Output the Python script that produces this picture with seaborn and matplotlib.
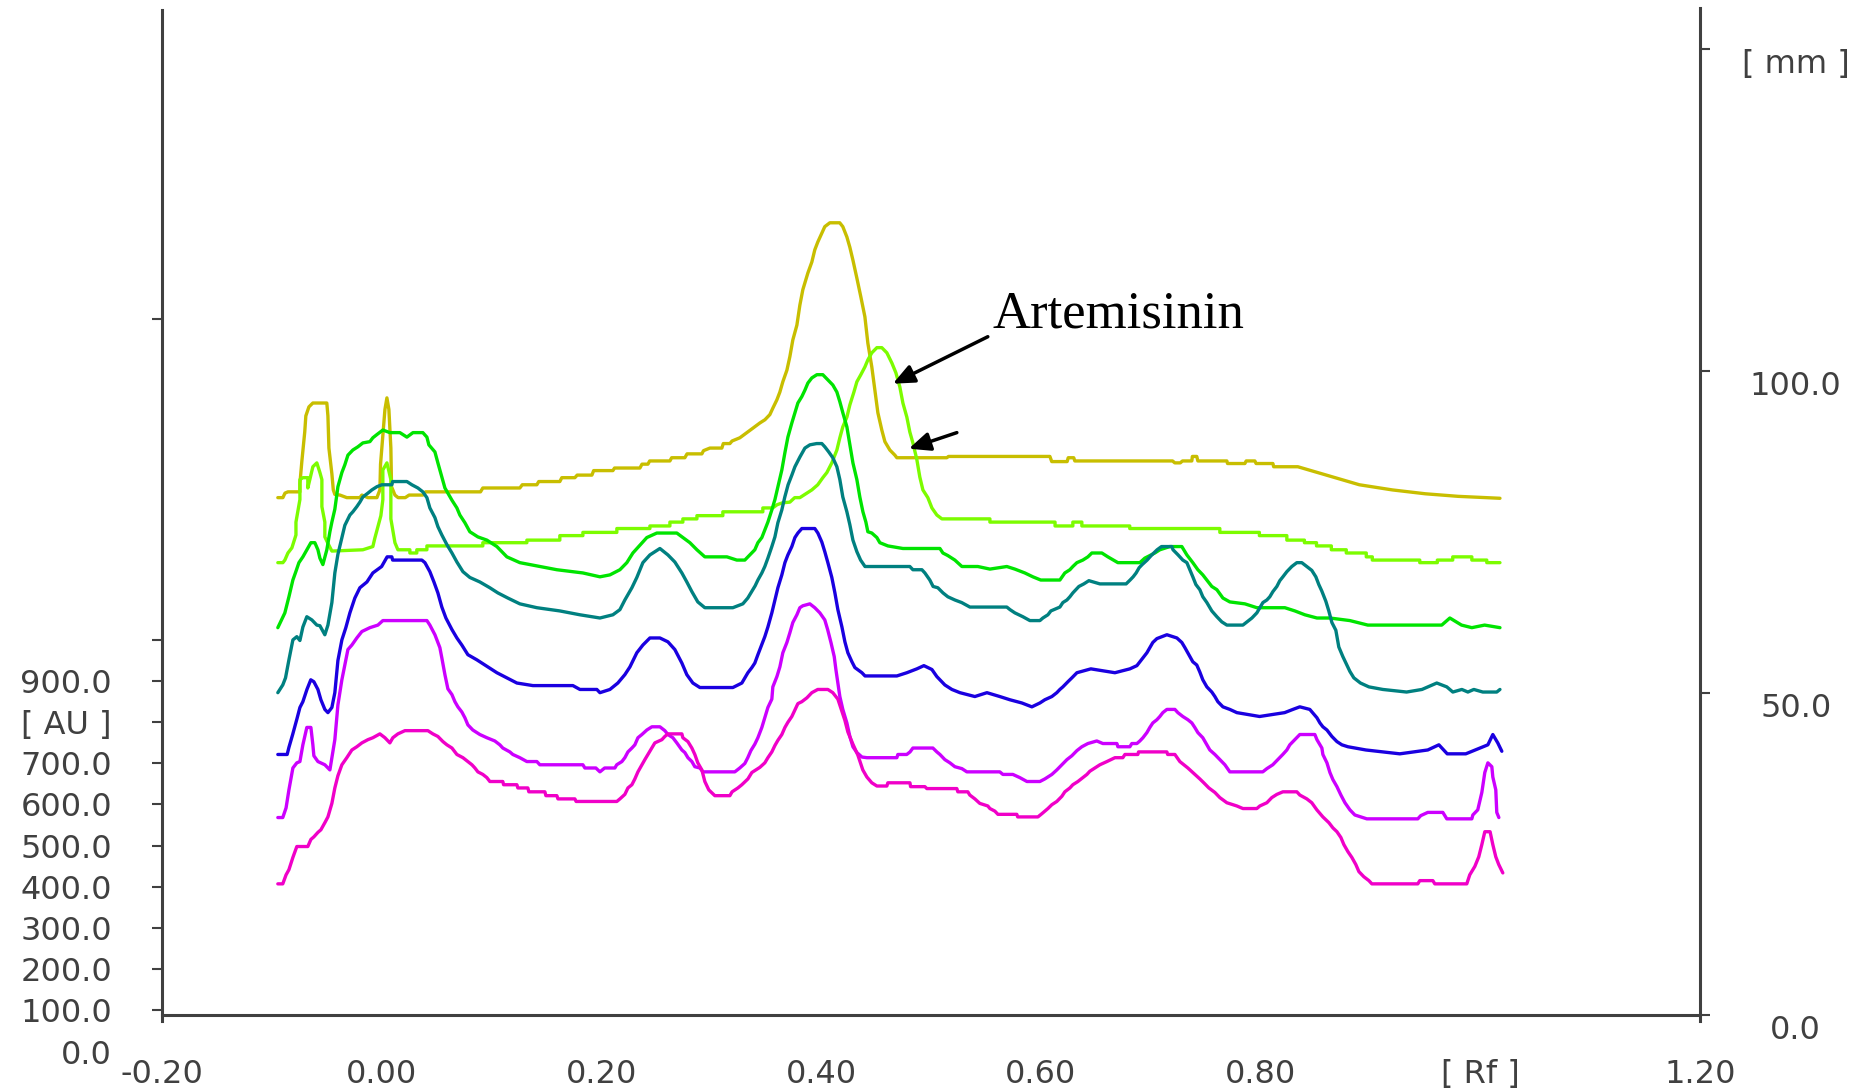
import numpy as np
import pandas as pd
import matplotlib
matplotlib.use("Agg")
import matplotlib.pyplot as plt
import seaborn as sns

sns.set_style("white")
plt.rcParams['font.family'] = ['DejaVu Sans']

# ---------------- data (x = Rf, y = mm) ----------------
yellow = [(-0.0945, 80.3), (-0.0899, 80.3), (-0.0880, 81.0), (-0.0853, 81.2), (-0.0744, 81.2), (-0.0744, 82.5),
          (-0.0726, 86.0), (-0.0700, 90.5), (-0.0690, 93.0), (-0.0662, 94.4), (-0.0626, 95.0), (-0.0499, 95.0),
          (-0.0489, 93.0), (-0.0480, 88.0), (-0.0453, 84.0), (-0.0440, 81.5), (-0.0426, 80.8), (-0.0380, 80.7),
          (-0.0317, 80.3), (-0.0198, 80.3), (-0.0180, 80.7), (-0.0125, 80.3), (-0.0043, 80.3), (-0.0016, 81.5),
          (-0.0010, 85.5), (0.0011, 90.0), (0.0030, 94.0), (0.0048, 95.8), (0.0066, 94.0), (0.0084, 88.0),
          (0.0090, 82.0), (0.0121, 80.7), (0.0150, 80.3), (0.0215, 80.3), (0.0250, 80.7), (0.0375, 80.7),
          (0.0400, 81.2), (0.0900, 81.2), (0.0921, 81.8), (0.1258, 81.8), (0.1280, 82.3), (0.1413, 82.3),
          (0.1430, 82.8), (0.1622, 82.8), (0.1640, 83.4), (0.1759, 83.4), (0.1780, 83.8), (0.1914, 83.8),
          (0.1930, 84.5), (0.2105, 84.5), (0.2120, 84.9), (0.2351, 84.9), (0.2370, 85.5), (0.2424, 85.5),
          (0.2440, 86.0), (0.2624, 86.0), (0.2640, 86.5), (0.2760, 86.5), (0.2780, 87.1), (0.2915, 87.1),
          (0.2930, 87.6), (0.2988, 88.0), (0.3097, 88.0), (0.3110, 88.7), (0.3170, 88.7), (0.3190, 89.1),
          (0.3261, 89.6), (0.3325, 90.4), (0.3380, 91.1), (0.3443, 91.9), (0.3489, 92.4), (0.3534, 93.2),
          (0.3561, 94.2), (0.3598, 95.5), (0.3625, 96.7), (0.3652, 98.3), (0.3689, 100.1), (0.3716, 102.2),
          (0.3743, 104.8), (0.3780, 107.1), (0.3807, 110.2), (0.3834, 112.6), (0.3880, 115.2), (0.3916, 116.9),
          (0.3943, 118.8), (0.3970, 120.0), (0.4007, 121.4), (0.4034, 122.4), (0.4080, 123.0), (0.4170, 123.0),
          (0.4198, 122.4), (0.4235, 120.8), (0.4262, 119.2), (0.4290, 117.2), (0.4326, 114.4), (0.4362, 111.5),
          (0.4399, 108.4), (0.4426, 104.3), (0.4462, 100.6), (0.4490, 97.0), (0.4517, 93.5), (0.4553, 90.8),
          (0.4581, 89.0), (0.4626, 87.7), (0.4672, 86.9), (0.4690, 86.5), (0.5145, 86.5), (0.5160, 86.7),
          (0.6083, 86.7), (0.6100, 85.9), (0.6240, 85.9), (0.6250, 86.5), (0.6300, 86.5), (0.6310, 86.0),
          (0.7200, 86.0), (0.7220, 85.7), (0.7270, 85.7), (0.7290, 86.0), (0.7375, 86.0), (0.7380, 86.7),
          (0.7420, 86.7), (0.7430, 86.0), (0.7694, 86.0), (0.7700, 85.6), (0.7858, 85.6), (0.7870, 86.0),
          (0.7949, 86.0), (0.7960, 85.6), (0.8113, 85.6), (0.8120, 85.1), (0.8340, 85.1), (0.8600, 83.8),
          (0.8900, 82.3), (0.9200, 81.5), (0.9500, 80.9), (0.9800, 80.5), (1.0180, 80.2)]

lgreen = [(-0.0945, 70.2), (-0.0899, 70.2), (-0.0881, 70.6), (-0.0853, 71.7), (-0.0817, 72.5), (-0.0780, 74.5),
          (-0.0780, 76.5), (-0.0744, 80.0), (-0.0744, 83.1), (-0.0717, 83.4), (-0.0672, 83.4), (-0.0672, 81.8),
          (-0.0626, 85.1), (-0.0590, 85.7), (-0.0562, 84.2), (-0.0544, 83.1), (-0.0544, 78.9), (-0.0517, 76.5),
          (-0.0517, 74.2), (-0.0489, 73.2), (-0.0453, 72.0), (-0.0171, 72.2), (-0.0080, 72.7), (-0.0062, 74.0),
          (-0.0034, 75.8), (-0.0007, 77.5), (0.0011, 80.0), (0.0011, 84.6), (0.0048, 85.7), (0.0084, 83.1),
          (0.0084, 77.0), (0.0121, 73.3), (0.0148, 72.2), (0.0257, 72.2), (0.0257, 71.7), (0.0320, 71.7),
          (0.0320, 72.2), (0.0412, 72.2), (0.0412, 72.8), (0.0921, 72.8), (0.0921, 73.3), (0.1322, 73.3),
          (0.1322, 73.7), (0.1622, 73.7), (0.1622, 74.4), (0.1832, 74.4), (0.1832, 74.9), (0.2141, 74.9),
          (0.2141, 75.5), (0.2442, 75.5), (0.2442, 75.9), (0.2624, 75.9), (0.2624, 76.5), (0.2742, 76.5),
          (0.2742, 77.0), (0.2870, 77.0), (0.2870, 77.5), (0.3106, 77.5), (0.3106, 78.1), (0.3470, 78.1),
          (0.3470, 78.7), (0.3560, 78.7), (0.3600, 79.2), (0.3650, 79.5), (0.3716, 79.6), (0.3760, 80.3),
          (0.3807, 80.3), (0.3870, 81.0), (0.3916, 81.5), (0.3970, 82.3), (0.4016, 83.4), (0.4053, 84.2),
          (0.4098, 85.7), (0.4144, 87.7), (0.4171, 89.6), (0.4198, 91.3), (0.4235, 92.8), (0.4262, 94.7),
          (0.4299, 96.7), (0.4326, 98.3), (0.4362, 99.4), (0.4399, 100.6), (0.4426, 101.7), (0.4462, 102.8),
          (0.4508, 103.6), (0.4553, 103.6), (0.4599, 102.8), (0.4645, 101.2), (0.4681, 99.7), (0.4717, 97.5),
          (0.4745, 95.0), (0.4781, 92.8), (0.4808, 90.5), (0.4836, 88.8), (0.4872, 86.2), (0.4899, 83.5),
          (0.4927, 81.5), (0.4972, 80.3), (0.5009, 78.7), (0.5054, 77.6), (0.5100, 77.0), (0.5537, 77.0),
          (0.5537, 76.5), (0.6130, 76.5), (0.6130, 75.9), (0.6292, 75.9), (0.6292, 76.5), (0.6374, 76.5),
          (0.6374, 75.9), (0.6810, 75.9), (0.6810, 75.5), (0.7630, 75.5), (0.7630, 74.9), (0.7990, 74.9),
          (0.7990, 74.4), (0.8240, 74.4), (0.8240, 73.7), (0.8400, 73.7), (0.8400, 73.3), (0.8510, 73.3),
          (0.8510, 72.8), (0.8645, 72.8), (0.8645, 72.2), (0.8781, 72.2), (0.8781, 71.7), (0.8963, 71.7),
          (0.8963, 71.1), (0.9018, 71.1), (0.9018, 70.6), (0.9450, 70.6), (0.9450, 70.2), (0.9610, 70.2),
          (0.9610, 70.6), (0.9750, 70.6), (0.9750, 71.1), (0.9924, 71.1), (0.9924, 70.6), (1.0060, 70.6),
          (1.0060, 70.2), (1.0180, 70.2)]

green = [(-0.0945, 60.1), (-0.0881, 62.4), (-0.0844, 64.9), (-0.0808, 67.5), (-0.0781, 68.8), (-0.0753, 70.2),
         (-0.0717, 71.1), (-0.0681, 72.2), (-0.0644, 73.3), (-0.0608, 73.3), (-0.0580, 72.2), (-0.0562, 70.9),
         (-0.0535, 69.9), (-0.0499, 72.2), (-0.0471, 75.0), (-0.0453, 76.5), (-0.0426, 78.5), (-0.0398, 82.0),
         (-0.0362, 84.2), (-0.0335, 85.4), (-0.0307, 86.9), (-0.0262, 87.7), (-0.0216, 88.2), (-0.0171, 88.8),
         (-0.0107, 89.0), (-0.0080, 89.6), (-0.0043, 90.1), (0.0011, 90.8), (0.0075, 90.4), (0.0166, 90.4),
         (0.0230, 89.7), (0.0285, 90.4), (0.0375, 90.4), (0.0412, 89.7), (0.0430, 88.5), (0.0485, 87.4),
         (0.0512, 85.7), (0.0548, 83.5), (0.0576, 81.8), (0.0640, 79.9), (0.0685, 78.7), (0.0712, 77.6),
         (0.0758, 76.4), (0.0803, 75.0), (0.0876, 74.2), (0.0958, 73.7), (0.1049, 72.7), (0.1140, 71.1),
         (0.1258, 70.2), (0.1441, 69.6), (0.1595, 69.1), (0.1832, 68.6), (0.1987, 68.0), (0.2078, 68.3),
         (0.2169, 69.1), (0.2232, 70.2), (0.2287, 71.7), (0.2351, 72.9), (0.2414, 74.1), (0.2505, 74.8),
         (0.2687, 74.8), (0.2742, 74.1), (0.2806, 73.3), (0.2870, 72.2), (0.2942, 71.1), (0.3143, 71.1),
         (0.3233, 70.6), (0.3306, 70.6), (0.3352, 71.4), (0.3397, 72.2), (0.3425, 73.3), (0.3461, 74.1),
         (0.3488, 75.3), (0.3516, 76.5), (0.3552, 78.4), (0.3580, 80.0), (0.3607, 82.0), (0.3643, 84.6),
         (0.3671, 87.3), (0.3698, 89.7), (0.3734, 91.9), (0.3762, 93.5), (0.3789, 95.0), (0.3825, 96.0),
         (0.3853, 97.0), (0.3880, 98.1), (0.3916, 98.9), (0.3962, 99.4), (0.4016, 99.4), (0.4062, 98.6),
         (0.4107, 97.8), (0.4144, 96.7), (0.4171, 95.2), (0.4198, 93.5), (0.4235, 91.3), (0.4262, 88.5),
         (0.4290, 85.7), (0.4326, 83.1), (0.4353, 80.4), (0.4381, 78.1), (0.4408, 76.5), (0.4426, 75.0),
         (0.4462, 74.8), (0.4508, 74.1), (0.4535, 73.3), (0.4608, 72.8), (0.4745, 72.4), (0.5082, 72.4),
         (0.5109, 71.7), (0.5154, 71.3), (0.5218, 70.6), (0.5282, 69.6), (0.5427, 69.6), (0.5537, 69.2),
         (0.5691, 69.6), (0.5764, 69.2), (0.5855, 68.6), (0.5928, 68.0), (0.6000, 67.5), (0.6174, 67.5),
         (0.6219, 68.6), (0.6265, 69.1), (0.6292, 69.6), (0.6329, 70.2), (0.6383, 70.6), (0.6429, 71.1),
         (0.6465, 71.7), (0.6556, 71.7), (0.6611, 71.1), (0.6702, 70.2), (0.6902, 70.2), (0.6947, 70.9),
         (0.7038, 71.7), (0.7084, 72.2), (0.7175, 72.7), (0.7284, 72.7), (0.7330, 71.4), (0.7384, 70.2),
         (0.7430, 69.1), (0.7475, 68.3), (0.7512, 67.5), (0.7557, 66.5), (0.7603, 66.0), (0.7658, 64.7),
         (0.7721, 64.1), (0.7858, 63.8), (0.7967, 63.2), (0.8222, 63.2), (0.8313, 62.7), (0.8404, 62.1),
         (0.8514, 61.6), (0.8632, 61.6), (0.8814, 61.2), (0.8977, 60.5), (0.9650, 60.5), (0.9724, 61.6),
         (0.9830, 60.5), (0.9924, 60.1), (1.0040, 60.5), (1.0180, 60.1)]

teal = [(-0.0945, 50.0), (-0.0900, 51.2), (-0.0875, 52.3), (-0.0844, 55.1), (-0.0808, 58.2), (-0.0772, 58.7),
        (-0.0744, 58.1), (-0.0717, 60.2), (-0.0681, 61.8), (-0.0635, 61.3), (-0.0590, 60.5), (-0.0562, 60.4),
        (-0.0517, 59.0), (-0.0489, 60.5), (-0.0453, 64.0), (-0.0426, 68.6), (-0.0398, 71.5), (-0.0362, 74.1),
        (-0.0335, 76.0), (-0.0289, 77.6), (-0.0262, 78.1), (-0.0226, 78.9), (-0.0198, 79.6), (-0.0171, 80.4),
        (-0.0125, 81.0), (-0.0089, 81.5), (-0.0043, 82.0), (0.0002, 82.3), (0.0093, 82.3), (0.0100, 82.8),
        (0.0230, 82.8), (0.0275, 82.3), (0.0330, 81.8), (0.0375, 81.2), (0.0412, 80.3), (0.0439, 78.7),
        (0.0485, 77.2), (0.0512, 75.8), (0.0548, 74.5), (0.0594, 73.0), (0.0640, 71.7), (0.0685, 70.3),
        (0.0740, 68.8), (0.0803, 67.9), (0.0894, 67.2), (0.0985, 66.3), (0.1058, 65.5), (0.1149, 64.7),
        (0.1258, 63.8), (0.1413, 63.2), (0.1622, 62.7), (0.1805, 62.1), (0.1987, 61.6), (0.2105, 62.1),
        (0.2169, 62.9), (0.2214, 64.4), (0.2278, 66.3), (0.2323, 67.9), (0.2378, 70.2), (0.2442, 71.4),
        (0.2533, 72.4), (0.2606, 71.4), (0.2669, 70.3), (0.2733, 68.6), (0.2778, 67.2), (0.2824, 65.7),
        (0.2878, 64.1), (0.2942, 63.2), (0.3197, 63.2), (0.3288, 63.8), (0.3333, 64.7), (0.3400, 66.6),
        (0.3425, 67.5), (0.3461, 68.6), (0.3488, 69.6), (0.3516, 70.9), (0.3552, 72.7), (0.3580, 74.2),
        (0.3607, 76.4), (0.3643, 78.4), (0.3670, 80.4), (0.3700, 82.3), (0.3734, 83.8), (0.3762, 85.1),
        (0.3807, 86.6), (0.3853, 88.0), (0.3898, 88.5), (0.3960, 88.7), (0.4007, 88.7), (0.4034, 88.2),
        (0.4070, 87.4), (0.4107, 86.5), (0.4144, 85.1), (0.4171, 83.1), (0.4198, 80.4), (0.4235, 78.1),
        (0.4262, 76.1), (0.4290, 73.7), (0.4326, 71.9), (0.4360, 70.6), (0.4400, 69.6), (0.4808, 69.6),
        (0.4836, 69.1), (0.4918, 69.1), (0.4945, 68.6), (0.4990, 67.5), (0.5020, 66.5), (0.5063, 66.3),
        (0.5110, 65.5), (0.5154, 64.9), (0.5218, 64.4), (0.5280, 64.0), (0.5355, 63.3), (0.5691, 63.3),
        (0.5720, 62.9), (0.5764, 62.4), (0.5837, 61.8), (0.5901, 61.2), (0.5992, 61.2), (0.6019, 61.6),
        (0.6065, 62.1), (0.6092, 62.7), (0.6174, 63.3), (0.6201, 64.0), (0.6238, 64.4), (0.6265, 64.9),
        (0.6292, 65.5), (0.6320, 66.0), (0.6347, 66.5), (0.6392, 66.9), (0.6438, 67.4), (0.6538, 66.9),
        (0.6777, 66.9), (0.6813, 67.5), (0.6841, 68.0), (0.6868, 68.6), (0.6895, 69.4), (0.6923, 69.9),
        (0.6968, 70.6), (0.7005, 71.3), (0.7059, 72.2), (0.7099, 72.7), (0.7193, 72.7), (0.7204, 72.2),
        (0.7250, 71.4), (0.7293, 70.6), (0.7330, 70.2), (0.7350, 69.4), (0.7384, 68.0), (0.7412, 66.8),
        (0.7448, 66.0), (0.7475, 64.9), (0.7512, 64.0), (0.7557, 62.7), (0.7603, 61.8), (0.7648, 61.0),
        (0.7694, 60.5), (0.7840, 60.5), (0.7877, 61.0), (0.7922, 61.6), (0.7967, 62.4), (0.7995, 63.2),
        (0.8022, 64.0), (0.8058, 64.4), (0.8085, 64.9), (0.8113, 65.7), (0.8149, 66.5), (0.8176, 67.4),
        (0.8204, 68.0), (0.8240, 68.8), (0.8285, 69.6), (0.8331, 70.2), (0.8376, 70.2), (0.8422, 69.6),
        (0.8467, 69.0), (0.8504, 68.0), (0.8531, 66.8), (0.8558, 65.8), (0.8595, 64.2), (0.8622, 62.7),
        (0.8650, 60.9), (0.8686, 59.7), (0.8713, 57.1), (0.8750, 55.6), (0.8786, 54.3), (0.8814, 53.3),
        (0.8850, 52.3), (0.8910, 51.5), (0.8987, 50.9), (0.9114, 50.5), (0.9330, 50.1), (0.9470, 50.5),
        (0.9524, 50.9), (0.9605, 51.5), (0.9696, 50.9), (0.9751, 50.1), (0.9833, 50.5), (0.9888, 50.1),
        (0.9942, 50.5), (1.0024, 50.1), (1.0151, 50.1), (1.0180, 50.5)]

blue = [(-0.0945, 40.4), (-0.0860, 40.4), (-0.0844, 41.5), (-0.0810, 43.5), (-0.0770, 46.0), (-0.0744, 47.7),
        (-0.0717, 48.6), (-0.0680, 50.5), (-0.0645, 52.0), (-0.0617, 51.7), (-0.0580, 50.5), (-0.0553, 48.9),
        (-0.0517, 47.4), (-0.0489, 46.9), (-0.0453, 47.7), (-0.0426, 50.0), (-0.0398, 55.0), (-0.0362, 58.2),
        (-0.0326, 60.1), (-0.0289, 62.4), (-0.0244, 64.7), (-0.0198, 66.3), (-0.0134, 67.2), (-0.0080, 68.6),
        (0.0000, 69.6), (0.0050, 71.1), (0.0093, 71.1), (0.0100, 70.6), (0.0366, 70.6), (0.0394, 70.2),
        (0.0439, 68.8), (0.0476, 67.2), (0.0512, 65.5), (0.0548, 63.3), (0.0585, 61.6), (0.0640, 59.8),
        (0.0685, 58.5), (0.0730, 57.4), (0.0785, 55.9), (0.0867, 55.1), (0.0967, 54.0), (0.1049, 53.1),
        (0.1140, 52.3), (0.1231, 51.5), (0.1377, 51.1), (0.1741, 51.1), (0.1805, 50.5), (0.1959, 50.5),
        (0.1987, 50.0), (0.2078, 50.5), (0.2150, 51.5), (0.2214, 52.8), (0.2260, 54.0), (0.2323, 56.2),
        (0.2378, 57.4), (0.2442, 58.5), (0.2533, 58.5), (0.2606, 57.9), (0.2669, 56.7), (0.2733, 54.6),
        (0.2778, 52.8), (0.2833, 51.5), (0.2897, 50.8), (0.3197, 50.8), (0.3279, 51.5), (0.3334, 53.1),
        (0.3370, 53.9), (0.3397, 54.6), (0.3425, 55.9), (0.3461, 57.5), (0.3488, 58.7), (0.3516, 60.2),
        (0.3552, 62.4), (0.3580, 64.4), (0.3607, 66.3), (0.3643, 68.3), (0.3671, 70.2), (0.3698, 71.4),
        (0.3734, 72.7), (0.3762, 74.1), (0.3789, 74.8), (0.3825, 75.5), (0.3943, 75.5), (0.3971, 74.8),
        (0.4007, 73.4), (0.4034, 71.9), (0.4062, 70.2), (0.4098, 67.9), (0.4126, 65.5), (0.4153, 62.9),
        (0.4190, 60.2), (0.4217, 57.9), (0.4244, 56.2), (0.4281, 54.8), (0.4308, 53.9), (0.4372, 53.1),
        (0.4400, 52.6), (0.4690, 52.6), (0.4781, 53.1), (0.4872, 53.7), (0.4936, 54.2), (0.5009, 53.6),
        (0.5054, 52.5), (0.5082, 52.0), (0.5127, 51.2), (0.5191, 50.5), (0.5264, 50.0), (0.5400, 49.4),
        (0.5510, 50.0), (0.5627, 49.4), (0.5719, 48.9), (0.5828, 48.4), (0.5919, 47.8), (0.5992, 48.4),
        (0.6037, 48.9), (0.6101, 49.4), (0.6146, 50.0), (0.6174, 50.5), (0.6201, 50.9), (0.6247, 51.7),
        (0.6283, 52.3), (0.6329, 53.1), (0.6456, 53.7), (0.6675, 53.1), (0.6811, 53.7), (0.6875, 54.2),
        (0.6902, 54.8), (0.6930, 55.4), (0.6966, 56.2), (0.6993, 57.0), (0.7020, 57.8), (0.7057, 58.4),
        (0.7148, 59.0), (0.7239, 58.5), (0.7284, 57.8), (0.7312, 57.0), (0.7348, 55.9), (0.7384, 54.8),
        (0.7420, 54.3), (0.7448, 53.2), (0.7475, 52.0), (0.7512, 50.9), (0.7557, 50.1), (0.7585, 49.4),
        (0.7612, 48.6), (0.7658, 47.8), (0.7721, 47.4), (0.7785, 46.9), (0.7992, 46.3), (0.8220, 46.9),
        (0.8295, 47.4), (0.8358, 47.8), (0.8449, 47.4), (0.8514, 46.1), (0.8541, 45.3), (0.8568, 44.7),
        (0.8605, 44.2), (0.8650, 43.2), (0.8696, 42.4), (0.8741, 41.9), (0.8796, 41.6), (0.8959, 41.1),
        (0.9268, 40.5), (0.9523, 41.1), (0.9624, 41.9), (0.9700, 40.5), (0.9869, 40.5), (1.0070, 41.9),
        (1.0115, 43.5), (1.0160, 42.2), (1.0197, 40.9)]

violet = [(-0.0945, 30.6), (-0.0900, 30.6), (-0.0870, 32.1), (-0.0844, 34.9), (-0.0808, 38.3), (-0.0772, 39.1),
          (-0.0744, 39.3), (-0.0717, 41.9), (-0.0681, 44.6), (-0.0644, 44.6), (-0.0626, 41.9), (-0.0617, 40.2),
          (-0.0580, 39.3), (-0.0517, 38.8), (-0.0471, 38.0), (-0.0453, 39.9), (-0.0426, 42.7), (-0.0398, 48.1),
          (-0.0362, 52.0), (-0.0335, 54.3), (-0.0307, 56.7), (-0.0271, 57.4), (-0.0226, 58.5), (-0.0180, 59.5),
          (-0.0107, 60.1), (-0.0034, 60.5), (0.0011, 61.2), (0.0412, 61.2), (0.0439, 60.5), (0.0485, 59.0),
          (0.0530, 57.0), (0.0548, 55.4), (0.0576, 52.8), (0.0603, 50.6), (0.0640, 49.7), (0.0667, 48.6),
          (0.0694, 47.8), (0.0730, 47.0), (0.0758, 46.1), (0.0785, 45.0), (0.0830, 44.2), (0.0894, 43.5),
          (0.0958, 43.0), (0.1030, 42.5), (0.1076, 41.9), (0.1103, 41.4), (0.1167, 40.8), (0.1194, 40.4),
          (0.1258, 39.9), (0.1322, 39.3), (0.1413, 39.3), (0.1440, 38.8), (0.1832, 38.8), (0.1850, 38.3),
          (0.1950, 38.3), (0.1987, 37.7), (0.2030, 38.3), (0.2123, 38.3), (0.2140, 38.8), (0.2187, 39.3),
          (0.2214, 39.9), (0.2242, 40.8), (0.2278, 41.4), (0.2305, 41.9), (0.2333, 43.0), (0.2369, 43.5),
          (0.2414, 44.2), (0.2460, 44.7), (0.2533, 44.7), (0.2578, 44.1), (0.2606, 43.5), (0.2651, 43.0),
          (0.2687, 42.2), (0.2733, 41.1), (0.2760, 40.7), (0.2788, 39.9), (0.2824, 39.3), (0.2851, 38.5),
          (0.2897, 38.3), (0.2924, 37.7), (0.3215, 37.7), (0.3260, 38.3), (0.3306, 39.0), (0.3333, 39.9),
          (0.3361, 41.0), (0.3397, 42.0), (0.3425, 43.0), (0.3461, 44.6), (0.3488, 46.1), (0.3516, 47.7),
          (0.3552, 49.0), (0.3561, 50.9), (0.3598, 52.5), (0.3625, 54.0), (0.3652, 56.2), (0.3689, 57.8),
          (0.3716, 59.3), (0.3743, 60.9), (0.3780, 62.1), (0.3807, 63.2), (0.3834, 63.5), (0.3898, 63.8),
          (0.3943, 63.2), (0.3989, 62.4), (0.4034, 61.3), (0.4060, 59.8), (0.4090, 57.8), (0.4120, 55.6),
          (0.4135, 53.6), (0.4153, 51.5), (0.4171, 49.4), (0.4198, 47.4), (0.4235, 45.3), (0.4262, 43.2),
          (0.4290, 41.6), (0.4326, 40.7), (0.4372, 40.0), (0.4417, 39.9), (0.4690, 39.9), (0.4699, 40.4),
          (0.4780, 40.4), (0.4810, 40.8), (0.4836, 41.4), (0.5018, 41.4), (0.5054, 40.8), (0.5082, 40.4),
          (0.5127, 39.6), (0.5173, 39.1), (0.5218, 38.5), (0.5282, 38.2), (0.5327, 37.7), (0.5627, 37.7),
          (0.5655, 37.3), (0.5746, 37.3), (0.5810, 36.8), (0.5874, 36.2), (0.5992, 36.2), (0.6037, 36.6),
          (0.6101, 37.3), (0.6146, 38.0), (0.6192, 38.8), (0.6238, 39.6), (0.6283, 40.2), (0.6329, 41.0),
          (0.6374, 41.6), (0.6429, 42.1), (0.6510, 42.5), (0.6565, 42.1), (0.6693, 42.1), (0.6702, 41.6),
          (0.6811, 41.6), (0.6829, 42.1), (0.6875, 42.1), (0.6902, 42.5), (0.6930, 43.0), (0.6966, 43.8),
          (0.6993, 44.6), (0.7020, 45.3), (0.7057, 45.8), (0.7084, 46.3), (0.7111, 46.9), (0.7148, 47.4),
          (0.7221, 47.4), (0.7248, 46.9), (0.7293, 46.3), (0.7339, 45.8), (0.7375, 45.3), (0.7402, 44.6),
          (0.7430, 43.8), (0.7475, 43.0), (0.7512, 41.9), (0.7539, 41.1), (0.7585, 40.4), (0.7630, 39.6),
          (0.7676, 38.8), (0.7721, 37.7), (0.8021, 37.7), (0.8058, 38.2), (0.8112, 38.8), (0.8158, 39.6),
          (0.8203, 40.4), (0.8240, 41.1), (0.8267, 41.9), (0.8313, 42.7), (0.8358, 43.5), (0.8495, 43.5),
          (0.8514, 42.7), (0.8559, 41.4), (0.8568, 40.4), (0.8605, 39.1), (0.8632, 37.6), (0.8659, 36.5),
          (0.8696, 35.4), (0.8732, 34.1), (0.8769, 32.9), (0.8814, 31.8), (0.8859, 31.0), (0.8968, 30.4),
          (0.9432, 30.4), (0.9459, 30.9), (0.9523, 31.4), (0.9660, 31.4), (0.9696, 30.4), (0.9924, 30.4),
          (0.9933, 31.0), (0.9978, 31.8), (1.0015, 34.5), (1.0042, 37.6), (1.0070, 39.1), (1.0106, 38.5),
          (1.0115, 36.9), (1.0142, 34.9), (1.0151, 31.4), (1.0170, 30.6)]

pink = [(-0.0945, 20.3), (-0.0900, 20.3), (-0.0870, 21.7), (-0.0844, 22.5), (-0.0808, 24.4), (-0.0772, 26.1),
        (-0.0672, 26.1), (-0.0644, 27.2), (-0.0617, 27.6), (-0.0580, 28.3), (-0.0553, 28.7), (-0.0517, 29.8),
        (-0.0489, 30.7), (-0.0453, 32.8), (-0.0426, 35.2), (-0.0398, 37.1), (-0.0362, 38.8), (-0.0317, 39.9),
        (-0.0271, 41.1), (-0.0226, 41.6), (-0.0180, 42.2), (-0.0125, 42.7), (-0.0080, 43.0), (-0.0016, 43.6),
        (0.0030, 43.0), (0.0075, 42.2), (0.0102, 43.0), (0.0148, 43.6), (0.0212, 44.1), (0.0421, 44.1),
        (0.0466, 43.6), (0.0512, 43.2), (0.0558, 42.4), (0.0594, 41.9), (0.0640, 41.4), (0.0685, 40.4),
        (0.0740, 39.9), (0.0785, 39.3), (0.0822, 38.8), (0.0849, 38.3), (0.0876, 37.7), (0.0921, 37.3),
        (0.0958, 36.8), (0.0985, 36.2), (0.1103, 36.2), (0.1110, 35.7), (0.1231, 35.7), (0.1240, 35.2),
        (0.1331, 35.2), (0.1340, 34.6), (0.1486, 34.6), (0.1495, 34.0), (0.1595, 34.0), (0.1605, 33.5),
        (0.1759, 33.5), (0.1770, 33.1), (0.2141, 33.1), (0.2169, 33.5), (0.2214, 34.2), (0.2242, 35.2),
        (0.2278, 35.7), (0.2305, 36.6), (0.2333, 37.7), (0.2369, 38.8), (0.2396, 39.6), (0.2424, 40.4),
        (0.2460, 41.4), (0.2487, 42.2), (0.2551, 42.7), (0.2578, 43.2), (0.2606, 43.6), (0.2733, 43.6),
        (0.2742, 43.0), (0.2788, 42.4), (0.2824, 41.4), (0.2851, 40.4), (0.2878, 39.1), (0.2915, 38.0),
        (0.2942, 36.2), (0.2978, 34.9), (0.3033, 34.0), (0.3170, 34.0), (0.3190, 34.6), (0.3243, 35.2),
        (0.3279, 35.7), (0.3334, 36.6), (0.3370, 37.6), (0.3443, 38.4), (0.3488, 39.1), (0.3516, 39.9),
        (0.3552, 40.8), (0.3580, 41.8), (0.3607, 42.6), (0.3643, 43.5), (0.3671, 44.6), (0.3698, 45.4),
        (0.3734, 46.3), (0.3762, 47.3), (0.3789, 48.3), (0.3825, 48.6), (0.3871, 49.2), (0.3916, 50.0),
        (0.3970, 50.5), (0.4062, 50.5), (0.4107, 50.0), (0.4153, 49.0), (0.4190, 47.1), (0.4217, 45.7),
        (0.4244, 43.9), (0.4290, 42.0), (0.4335, 40.3), (0.4380, 38.0), (0.4417, 36.9), (0.4462, 36.0),
        (0.4508, 35.5), (0.4599, 35.5), (0.4608, 36.0), (0.4809, 36.0), (0.4815, 35.4), (0.4945, 35.4),
        (0.4963, 35.1), (0.5236, 35.1), (0.5245, 34.6), (0.5336, 34.6), (0.5354, 34.1), (0.5400, 33.5),
        (0.5445, 32.8), (0.5518, 32.4), (0.5537, 32.0), (0.5582, 31.6), (0.5610, 31.1), (0.5782, 31.1),
        (0.5790, 30.7), (0.5974, 30.7), (0.6010, 31.2), (0.6065, 32.0), (0.6101, 32.6), (0.6146, 33.1),
        (0.6192, 33.9), (0.6219, 34.6), (0.6265, 35.2), (0.6292, 35.7), (0.6338, 36.2), (0.6383, 36.8),
        (0.6420, 37.3), (0.6447, 37.8), (0.6492, 38.3), (0.6538, 38.8), (0.6602, 39.3), (0.6675, 39.9),
        (0.6747, 39.9), (0.6766, 40.4), (0.6884, 40.4), (0.6890, 40.8), (0.7148, 40.8), (0.7155, 40.4),
        (0.7221, 40.4), (0.7266, 39.3), (0.7339, 38.3), (0.7384, 37.6), (0.7448, 36.6), (0.7484, 36.0),
        (0.7530, 35.2), (0.7585, 34.5), (0.7630, 33.7), (0.7694, 32.9), (0.7785, 32.4), (0.7840, 32.0),
        (0.7967, 32.0), (0.7994, 32.4), (0.8058, 32.9), (0.8103, 33.7), (0.8149, 34.2), (0.8204, 34.6),
        (0.8331, 34.6), (0.8358, 34.1), (0.8422, 33.5), (0.8467, 32.9), (0.8513, 31.8), (0.8568, 30.7),
        (0.8623, 29.8), (0.8659, 29.0), (0.8696, 28.4), (0.8732, 27.5), (0.8759, 26.4), (0.8796, 25.3),
        (0.8832, 24.4), (0.8868, 23.3), (0.8896, 22.2), (0.8941, 21.4), (0.8987, 20.8), (0.9014, 20.3),
        (0.9432, 20.3), (0.9450, 20.8), (0.9569, 20.8), (0.9587, 20.3), (0.9878, 20.3), (0.9905, 21.7),
        (0.9951, 23.0), (0.9987, 24.5), (1.0015, 26.4), (1.0042, 28.4), (1.0090, 28.4), (1.0115, 26.4),
        (1.0142, 24.5), (1.0169, 23.3), (1.0206, 22.0)]

track_names = ["Track 1", "Track 2", "Track 3", "Track 4", "Track 5", "Track 6", "Track 7"]
track_data = [yellow, lgreen, green, teal, blue, violet, pink]
track_colors = ["#C8BE00", "#7CFC00", "#00E400", "#008080", "#1A00E0", "#CC00FF", "#F000C8"]

x_ticks = [-0.20, 0.00, 0.20, 0.40, 0.60, 0.80, 1.00, 1.20]
x_tick_labels = ["-0.20", "0.00", "0.20", "0.40", "0.60", "0.80", "[ Rf ]", "1.20"]
au_ticks = [0, 100, 200, 300, 400, 500, 600, 700, 800, 900, 1000]
au_tick_labels = ["0.0", "100.0", "200.0", "300.0", "400.0", "500.0", "600.0", "700.0", "[ AU ]", "900.0", ""]
mm_ticks = [0, 50, 100, 150]
mm_tick_labels = ["0.0", "50.0", "100.0", "[ mm ]"]

annotation_text = "Artemisinin"

# ---------------- build data frame ----------------
rows = []
for name, pts in zip(track_names, track_data):
    for i, (x, y) in enumerate(pts):
        rows.append((name, i, x, y))
df = pd.DataFrame(rows, columns=["track", "order", "rf", "mm"])

# ---------------- figure ----------------
AXIS_COLOR = "#404040"
LABEL_SIZE = 23
fig = plt.figure(figsize=(18.57, 10.89), dpi=100)
ax = fig.add_axes([0.0872, 0.0211, 0.8282, 0.9753])

sns.lineplot(data=df, x="rf", y="mm", hue="track", hue_order=track_names,
             palette=dict(zip(track_names, track_colors)), sort=False, estimator=None,
             legend=False, linewidth=2.4, ax=ax)

ax.set_xlim(-0.2, 1.2)
ax.set_ylim(-8, 157)
ax.set_xlabel("")
ax.set_ylabel("")

for s in ["left", "right", "bottom"]:
    ax.spines[s].set_color(AXIS_COLOR)
    ax.spines[s].set_linewidth(2.2)
ax.spines["top"].set_visible(False)
ax.spines["bottom"].set_position(("data", 0))
ax.spines["left"].set_bounds(-1, 156.1)
ax.spines["right"].set_bounds(-1, 156.4)

ax.set_xticks(x_ticks, labels=x_tick_labels)
ax.tick_params(axis="x", direction="out", length=10.8, width=1.0, color=AXIS_COLOR,
               pad=21.5, labelsize=LABEL_SIZE, labelcolor=AXIS_COLOR)

ax.set_yticks([108.0])
ax.tick_params(axis="y", left=True, right=False, labelleft=False, labelright=False,
               direction="out", length=7, width=1.5, color=AXIS_COLOR)

# left intensity axis [AU]
def mm_to_au(m):
    return (np.asarray(m) + 5.75) / 0.064

def au_to_mm(a):
    return np.asarray(a) * 0.064 - 5.75

sec_l = ax.secondary_yaxis("left", functions=(mm_to_au, au_to_mm))
sec_l.set_yticks(au_ticks, labels=au_tick_labels)
sec_l.spines["left"].set_visible(False)
sec_l.tick_params(axis="y", direction="out", length=7, width=1.5, color=AXIS_COLOR,
                  pad=29, labelsize=LABEL_SIZE, labelcolor=AXIS_COLOR)
sec_l.yaxis.get_major_ticks()[0].tick1line.set_visible(False)

# right distance axis [mm]
sec_r = ax.secondary_yaxis("right")
sec_r.set_yticks(mm_ticks, labels=mm_tick_labels)
sec_r.spines["right"].set_visible(False)
sec_r.tick_params(axis="y", direction="out", length=7, width=1.5, color=AXIS_COLOR,
                  pad=62, labelsize=LABEL_SIZE, labelcolor=AXIS_COLOR)
for lab in sec_r.get_yticklabels():
    lab.set_horizontalalignment("center")
    lab.set_verticalalignment("top")

# annotation
ax.text(0.5564, 106.8, annotation_text, family="Liberation Serif", fontsize=38,
        ha="left", va="baseline", color="black")
arrow_kw = dict(arrowstyle="-|>,head_length=0.8,head_width=0.35", color="black",
                lw=2.5, mutation_scale=16, shrinkA=0, shrinkB=0)
ax.annotate("", xy=(0.4654, 98.0), xytext=(0.5518, 105.3), arrowprops=arrow_kw)
ax.annotate("", xy=(0.4799, 87.9), xytext=(0.5236, 90.4), arrowprops=arrow_kw)

fig.savefig("out.png", dpi=100)
